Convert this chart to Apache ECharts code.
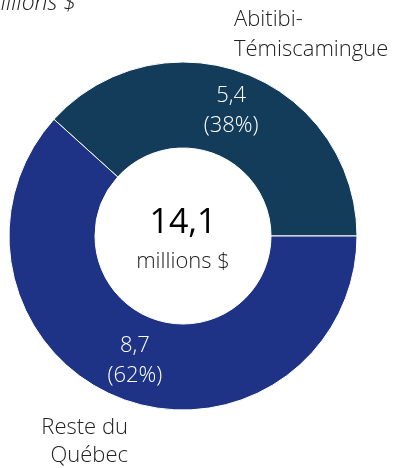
<!DOCTYPE html>
<html>
<head>
<meta charset="utf-8">
<script src="https://cdn.jsdelivr.net/npm/echarts@6/dist/echarts.min.js"></script>
<style>
  html, body { margin: 0; padding: 0; background: #fff; }
  #chart { width: 403px; height: 468px; }
</style>
</head>
<body>
<div id="chart"></div>
<script>
// Regional split of the total, in millions of dollars
const regions = ['Abitibi-\nTémiscamingue', 'Reste du\nQuébec'];
const amounts = [5.4, 8.7];
const sliceColors = ['#133c5b', '#1e3386'];
const totalLabel = '14,1';
const unitLabel = 'millions $';

const FONT = '"Open Sans", "Noto Sans", sans-serif';
const total = amounts.reduce((a, b) => a + b, 0);
const fmt = v => v.toFixed(1).replace('.', ',');

const cx = 183, cy = 236;

const chart = echarts.init(document.getElementById('chart'));
chart.setOption({
  animation: false,
  series: [{
    type: 'pie',
    center: [cx, cy],
    radius: [88, 174],
    startAngle: 0,
    clockwise: false,
    itemStyle: { borderColor: '#fff', borderWidth: 1 },
    label: {
      show: true,
      position: 'inside',
      color: '#fff',
      fontFamily: FONT,
      fontWeight: 300,
      fontSize: 22,
      lineHeight: 30,
      formatter: p => fmt(p.value) + '\n(' + Math.round(p.value / total * 100) + '%)'
    },
    labelLine: { show: false },
    emphasis: { disabled: true },
    data: regions.map((n, i) => ({ name: n, value: amounts[i], itemStyle: { color: sliceColors[i] } }))
  }],
  graphic: [
    { type: 'text', style: { text: totalLabel, x: cx, y: cy - 13, font: '400 34px ' + FONT, fill: '#000', textAlign: 'center', textVerticalAlign: 'middle' } },
    { type: 'text', style: { text: unitLabel, x: cx, y: cy + 26, font: '300 22px ' + FONT, fill: '#222', textAlign: 'center', textVerticalAlign: 'middle' } },
    { type: 'text', style: { text: unitLabel, x: 76, y: 3, font: 'italic 300 23px ' + FONT, fill: '#222', textAlign: 'right', textVerticalAlign: 'middle' } },
    { type: 'text', style: { text: regions[0], x: 234, y: 35, font: '300 22px ' + FONT, lineHeight: 30, fill: '#222', textAlign: 'left', textVerticalAlign: 'middle' } },
    { type: 'text', style: { text: regions[1], x: 128, y: 442, font: '300 22px ' + FONT, lineHeight: 28, fill: '#222', textAlign: 'right', textVerticalAlign: 'middle' } }
  ]
});
</script>
</body>
</html>
